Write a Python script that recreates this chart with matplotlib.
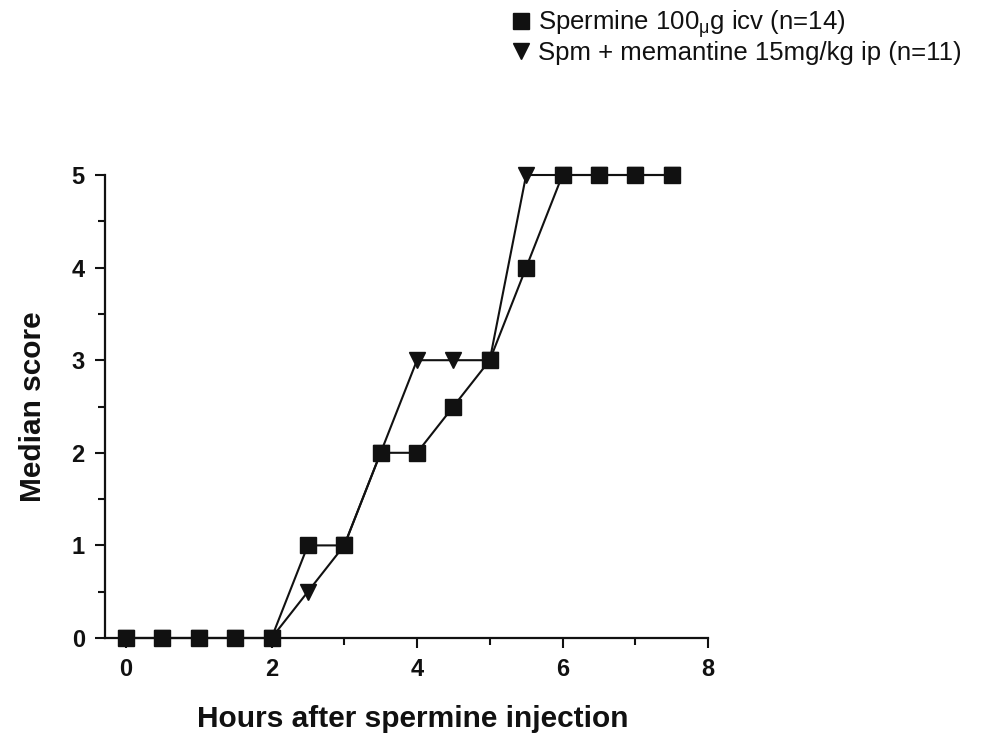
import matplotlib
matplotlib.use("Agg")
import matplotlib.pyplot as plt
from matplotlib.ticker import MultipleLocator
from matplotlib.lines import Line2D

plt.rcParams['font.family'] = ['Liberation Sans', 'DejaVu Sans']

hours = [0, 0.5, 1, 1.5, 2, 2.5, 3, 3.5, 4, 4.5, 5, 5.5, 6, 6.5, 7, 7.5]
spermine = [0, 0, 0, 0, 0, 1, 1, 2, 2, 2.5, 3, 4, 5, 5, 5, 5]
memantine = [0, 0, 0, 0, 0, 0.5, 1, 2, 3, 3, 3, 5, 5, 5, 5, 5]
labels = ["Spermine 100$\\mathregular{_{\\mu}}$g icv (n=14)",
          "Spm + memantine 15mg/kg ip (n=11)"]
xticks = [0, 2, 4, 6, 8]
yticks = [0, 1, 2, 3, 4, 5]

W, H = 983, 738
fig = plt.figure(figsize=(W / 100, H / 100), dpi=100)
ax = fig.add_axes([105 / W, 1 - 638 / H, (708 - 105) / W, (638 - 175) / H])

ax.plot(hours, memantine, color='#111111', lw=1.5, marker='v', ms=11,
        clip_on=False, zorder=3)
ax.plot(hours, spermine, color='#111111', lw=1.5, marker='s', ms=12,
        clip_on=False, zorder=4)

ax.set_xlim(-0.289, 8)
ax.set_ylim(0, 5)
ax.spines['top'].set_visible(False)
ax.spines['right'].set_visible(False)
for s in ('left', 'bottom'):
    ax.spines[s].set_linewidth(1.6)
    ax.spines[s].set_color('#111111')
ax.set_xticks(xticks)
ax.set_yticks(yticks)
ax.xaxis.set_minor_locator(MultipleLocator(1))
ax.yaxis.set_minor_locator(MultipleLocator(0.5))
ax.tick_params(which='major', length=7.5, width=1.5, labelsize=17, pad=7,
               color='#111111', labelcolor='#111111')
ax.tick_params(which='minor', length=5, width=1.5, color='#111111')
for t in ax.get_xticklabels() + ax.get_yticklabels():
    t.set_fontweight('bold')

ax.set_xlabel("Hours after spermine injection", fontsize=21.5, fontweight='bold',
              color='#111111')
ax.xaxis.set_label_coords(0.51, -0.145)
ax.set_ylabel("Median score", fontsize=21.5, fontweight='bold', labelpad=18,
              color='#111111')

handles = [Line2D([], [], ls='none', marker='s', color='#111111', ms=11.5),
           Line2D([], [], ls='none', marker='v', color='#111111', ms=12)]
fig.legend(handles, labels, loc='upper left', bbox_to_anchor=(503 / W, 1 + 2 / H),
           frameon=False, fontsize=18.5, handlelength=0.6, handletextpad=0.35,
           labelspacing=0.05, borderaxespad=0, labelcolor='#111111')

fig.savefig("out.png", dpi=100)
